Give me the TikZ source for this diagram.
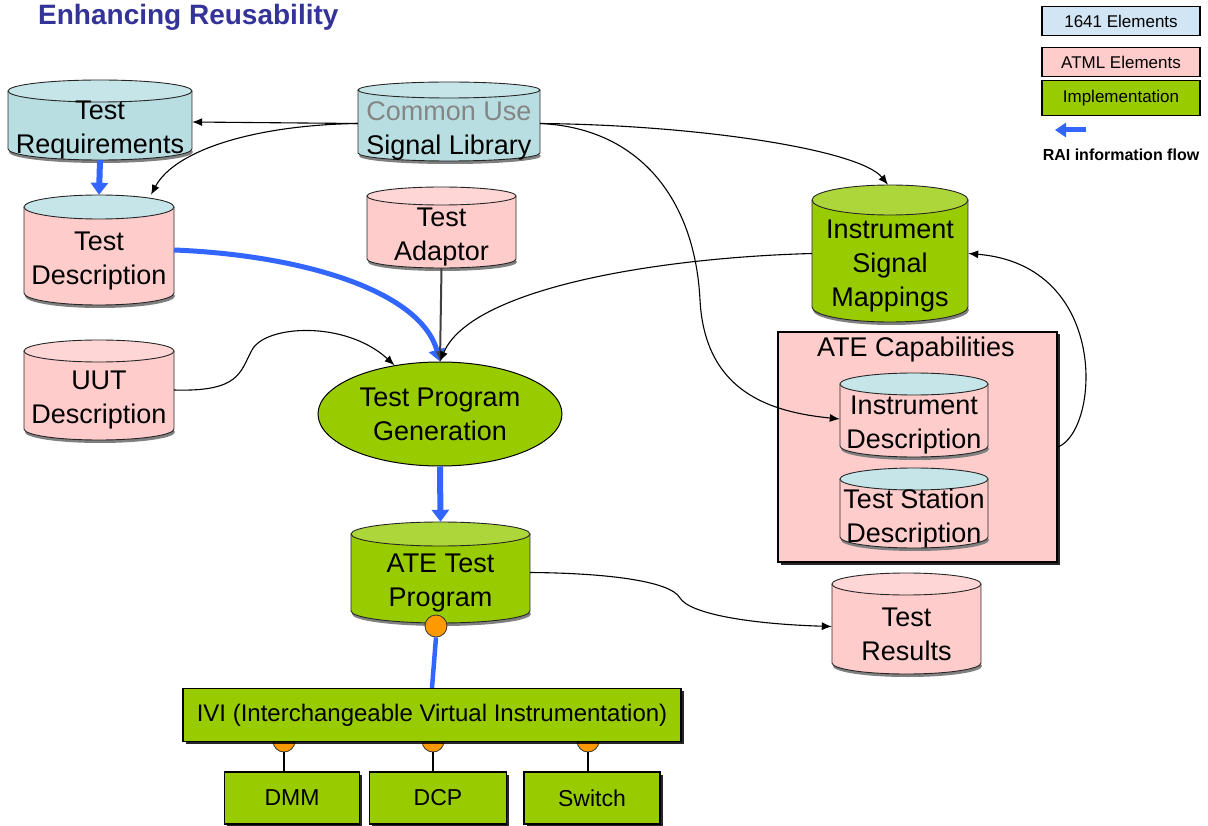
\documentclass[tikz,border=0pt]{standalone}
\usepackage{fontspec}
\setmainfont{Liberation Sans}
\usetikzlibrary{arrows.meta,shapes.geometric,shadows}

\definecolor{pinkel}{HTML}{FFCCCC}
\definecolor{pinkcap}{HTML}{FFD6D6}
\definecolor{tealel}{HTML}{B8DEE1}
\definecolor{tealcap}{HTML}{C6E5E8}
\definecolor{implgreen}{HTML}{99CC00}
\definecolor{greencap}{HTML}{ADD63A}
\definecolor{flowblue}{HTML}{3366FF}
\definecolor{titleblue}{HTML}{333399}
\definecolor{plugorange}{HTML}{FF9900}
\definecolor{stdblue}{HTML}{D2E5F5}
\definecolor{cugrey}{HTML}{858585}

\tikzset{
  cylline/.style={draw=black!85, line width=0.9pt},
  cyltext/.style={align=center, inner sep=0pt, font=\fontsize{27}{34}\selectfont},
  link/.style={draw=black, line width=1.1pt, -{Latex[length=10pt,width=8pt]}},
  flow/.style={draw=flowblue, line width=6pt, -{Triangle[length=12pt,width=17pt]}},
  flowcurve/.style={draw=flowblue, line width=5pt, -{Triangle[length=12pt,width=16pt]}},
  flowline/.style={draw=flowblue, line width=4.5pt},
  boxshadow/.style={drop shadow={shadow xshift=2.5pt, shadow yshift=-2.5pt, fill=black, opacity=0.85}},
  greenbox/.style={draw=black, line width=1.2pt, fill=implgreen, inner sep=0pt, boxshadow},
  legendbox/.style={draw=black, line width=1.2pt, minimum width=158pt, inner sep=0pt,
    font=\fontsize{17}{20}\selectfont},
  socket/.style={circle, draw=black!80, fill=plugorange, minimum size=22pt, inner sep=0pt, line width=0.8pt},
}

% database cylinder: name, left x, top y, right x, bottom y, cap fill, body fill, text, cap half-height
\newcommand\dbcyl[9]{%
  \pgfmathsetmacro\cylxc{(#2+#4)/2}%
  \pgfmathsetmacro\cylrx{(#4-#2)/2}%
  \pgfmathsetmacro\cylw{#4-#2}%
  \pgfmathsetmacro\cylh{#5-#3}%
  \pgfmathsetmacro\cylyt{#3+#9}%
  \pgfmathsetmacro\cylyb{#5-#9}%
  \pgfmathsetmacro\cylym{(\cylyt+#5)/2+5}%
  \fill[black!50] (\cylxc+1,\cylyb+3) ellipse[x radius=\cylrx pt, y radius=#9 pt];
  \fill[#7] (#2,\cylyt) rectangle (#4,\cylyb);
  \fill[#7] (\cylxc,\cylyb) ellipse[x radius=\cylrx pt, y radius=#9 pt];
  \draw[cylline] (#2,\cylyt) -- (#2,\cylyb)
    arc[start angle=180, end angle=360, x radius=\cylrx pt, y radius=#9 pt] -- (#4,\cylyt);
  \draw[cylline, fill=#6] (\cylxc,\cylyt) ellipse[x radius=\cylrx pt, y radius=#9 pt];
  \node[inner sep=0pt, minimum width=\cylw pt, minimum height=\cylh pt] (#1) at (\cylxc,{(#3+#5)/2}) {};
  \node[cyltext] (#1-t) at (\cylxc,\cylym) {#8};
}

\begin{document}
\begin{tikzpicture}[x=1pt, y=-1pt]
\useasboundingbox (0,0) rectangle (1208,826);

% heading
\node[anchor=base west, inner sep=0pt, text=titleblue,
      font=\fontsize{28}{30}\selectfont\bfseries] (title) at (38,25) {Enhancing Reusability};

% key
\node[legendbox, fill=stdblue, minimum height=29pt] (key1) at (1121,21) {1641 Elements};
\node[legendbox, fill=pinkel, minimum height=29pt] (key2) at (1121,62) {ATML Elements};
\node[legendbox, fill=implgreen, minimum height=35pt] (key3) at (1121,98) {Implementation};
\coordinate (keyA) at (1086,130);
\coordinate (keyB) at (1055,130);
\draw[draw=flowblue, line width=5pt, -{Triangle[length=11pt,width=14pt]}] (keyA) -- (keyB);
\node[inner sep=0pt, font=\fontsize{16}{18}\selectfont\bfseries] (keytext) at (1121,155) {RAI information flow};

% ATE capabilities frame
\node[draw=black, line width=2pt, fill=pinkel, minimum width=279pt, minimum height=230pt,
      inner sep=0pt, boxshadow] (atec) at (917.5,447) {};
\node[cyltext] (atec-t) at (916,350) {ATE Capabilities};

% data stores
\dbcyl{tr}{8}{80}{192}{160}{tealcap}{tealel}{Test\\Requirements}{11}
\dbcyl{sl}{358}{82}{540}{161}{tealcap}{tealel}{\textcolor{cugrey}{Common Use}\\Signal Library}{8}
\dbcyl{td}{24}{195}{174}{305}{tealcap}{pinkel}{Test\\Description}{12}
\dbcyl{ta}{367}{187}{516}{268}{pinkcap}{pinkel}{Test\\Adaptor}{9}
\dbcyl{ism}{812}{185}{968}{322}{greencap}{implgreen}{Instrument\\Signal\\Mappings}{15}
\dbcyl{uut}{24}{340}{174}{440}{pinkcap}{pinkel}{UUT\\Description}{11}
\dbcyl{idesc}{840}{373}{988}{457}{tealcap}{pinkel}{Instrument\\Description}{11}
\dbcyl{tsd}{840}{468}{988}{548}{tealcap}{pinkel}{Test Station\\Description}{11}
\dbcyl{atp}{351}{522}{530}{623}{greencap}{implgreen}{ATE Test\\Program}{12}
\dbcyl{tres}{832}{573}{981}{674}{pinkcap}{pinkel}{Test\\Results}{11}

% generator
\node[ellipse, draw=black, line width=1pt, fill=implgreen, minimum width=244pt, minimum height=104pt,
      inner sep=0pt, align=center, font=\fontsize{27}{34}\selectfont] (tpg) at (440,414)
      {Test Program\\Generation};

% IVI layer
\node[socket] (s1) at (284,741) {};
\node[socket] (s2) at (433,741) {};
\node[socket] (s3) at (588,741) {};
\node[greenbox, minimum width=498pt, minimum height=53pt, font=\fontsize{24}{28}\selectfont]
      (ivi) at (432,715) {IVI (Interchangeable Virtual Instrumentation)};
\node[greenbox, minimum width=135pt, minimum height=52pt, font=\fontsize{23}{26}\selectfont]
      (dmm) at (292,798) {DMM};
\node[greenbox, minimum width=137pt, minimum height=52pt, font=\fontsize{23}{26}\selectfont]
      (dcp) at (438,798) {DCP};
\node[greenbox, minimum width=136pt, minimum height=52pt, font=\fontsize{23}{26}\selectfont]
      (sw) at (592,798) {Switch};
\draw[line width=1.4pt] (s1.south) -- (s1.south |- dmm.north);
\draw[line width=1.4pt] (s2.south) -- (s2.south |- dcp.north);
\draw[line width=1.4pt] (s3.south) -- (s3.south |- sw.north);

% information flow
\draw[flow] (tr.south) -- (td.north);
\draw[flowcurve] (td.east) .. controls (300,255) and (420,290) .. (tpg.north);
\draw[flow] (tpg.south) -- (atp.north);
\node[socket] (plug) at (436,626) {};
\draw[flowline] (plug.south) -- (ivi.north);

% references
\draw[link] ([yshift=-2pt]sl.west) -- ([yshift=-2pt]tr.east);
\draw[link] ([yshift=-2pt]sl.west) .. controls (255,125) and (175,150) .. ([xshift=52pt]td.north);
\draw[link] ([yshift=-2pt]sl.east) .. controls (700,125) and (860,150) .. ([xshift=-2pt]ism.north);
\draw[link] ([yshift=-2pt]sl.east) .. controls (640,128) and (695,200) .. (700,300)
            .. controls (705,392) and (770,412) .. ([yshift=-4pt]idesc.west);
\draw[draw=black!75, line width=2pt, -{Latex[length=10pt,width=9pt]}] (ta.south) -- (tpg.north);
\draw[link] (ism.west) .. controls (650,258) and (470,290) .. (tpg.north);
\draw[link] (uut.east) .. controls (240,392) and (240,372) .. (252,350)
            .. controls (265,325) and (345,320) .. (tpg.133);
\draw[link] (atec.east) .. controls (1100,430) and (1110,265) .. (ism.east);
\draw[link] (atp.east) .. controls (600,573) and (670,580) .. (680,598)
            .. controls (690,614) and (750,624) .. ([yshift=-3pt]tres.west);
\end{tikzpicture}
\end{document}
